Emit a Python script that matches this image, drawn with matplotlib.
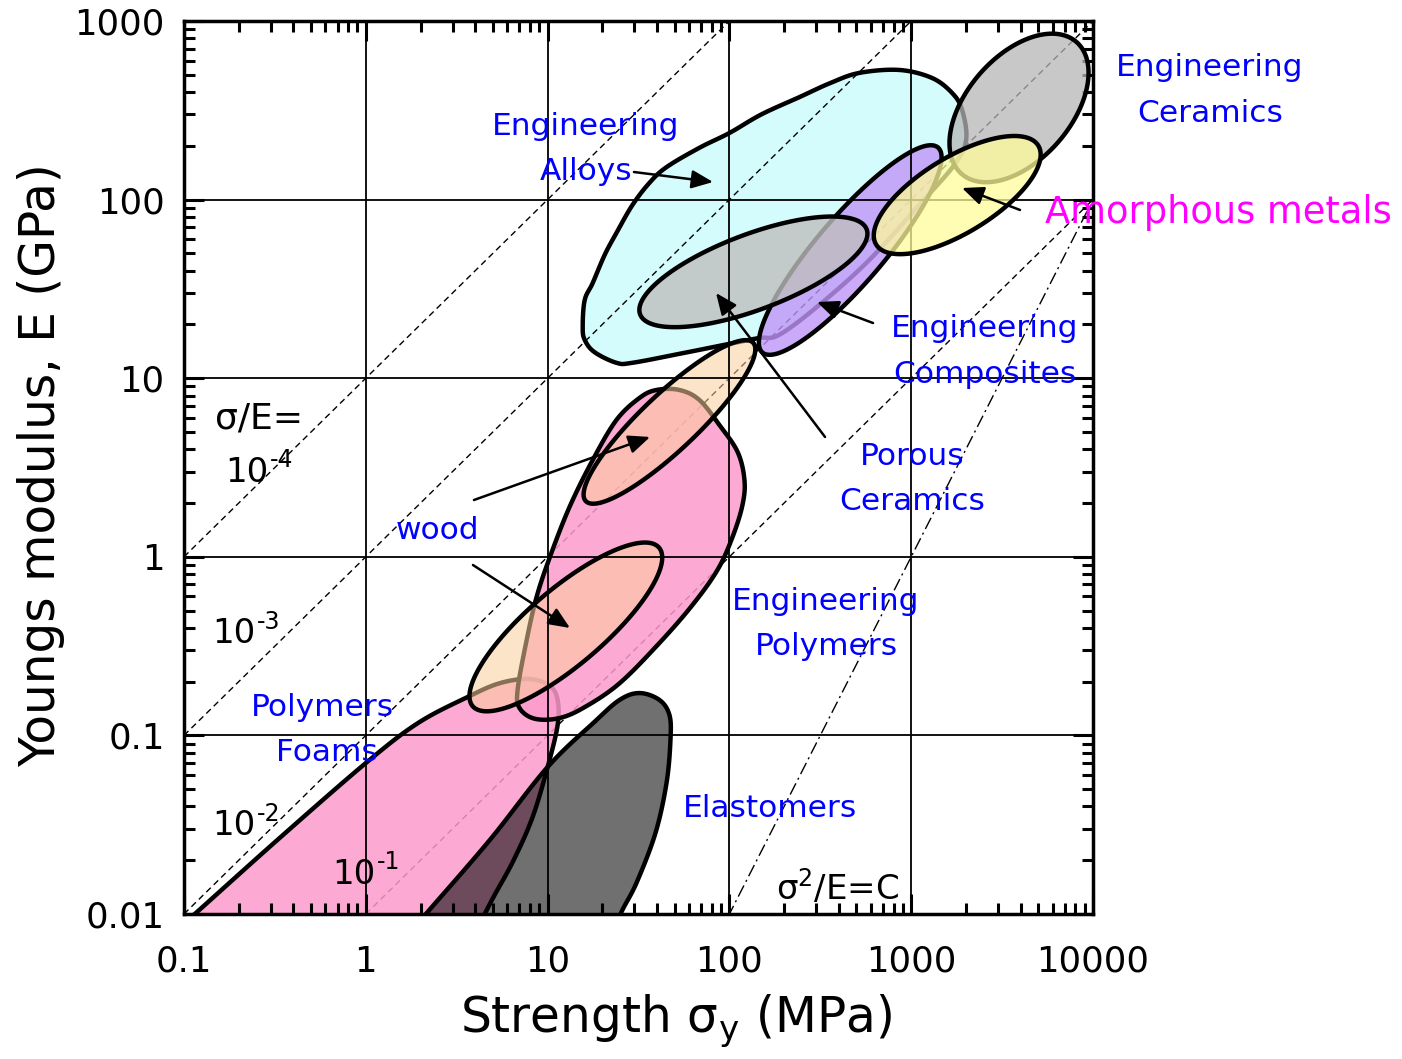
import numpy as np
import matplotlib
matplotlib.use('Agg')
import matplotlib.pyplot as plt
from matplotlib.ticker import LogLocator, FuncFormatter, NullFormatter
from matplotlib.transforms import offset_copy

plt.rcParams['font.family'] = ['DejaVu Sans']
plt.rcParams['mathtext.default'] = 'regular'

# ---------------- data ----------------
x_ticks = [0.1, 1, 10, 100, 1000, 10000]
y_ticks = [0.01, 0.1, 1, 10, 100, 1000]

ratio_lines = [1e-4, 1e-3, 1e-2, 1e-1]      # sigma/E guide lines
ratio_exponents = ['-4', '-3', '-2', '-1']
sq_const = 1e6                               # sigma^2/E = C guide line

# material property envelopes (sigma in MPa, E in GPa)
alloys_sigma = [15.6, 16.0, 17.7, 20.6, 23.9, 29.3, 36.3, 45.1, 68.4, 100, 150, 243, 360, 518, 859, 1300,
                1680, 1905, 2005, 1722, 1107, 588, 312, 188, 146, 104, 55.2, 29.3, 23.9, 18.1, 16.0]
alloys_E = [19.4, 27.4, 34.1, 49.0, 65.0, 93.3, 124, 152, 195, 236, 300, 375, 450, 512, 532, 480,
            395, 318, 216, 156, 93.3, 45.9, 25.7, 17.5, 16.8, 15.7, 13.8, 12.2, 12.2, 14.0, 16.4]

polymers_sigma = [39.7, 53.1, 68.4, 88.1, 111, 121, 118, 104, 85.9, 62.6, 41.2, 24.9, 16.0, 11.6,
                  8.49, 7.02, 6.84, 7.67, 8.70, 10.3, 13.2, 17.7, 23.9, 32.0]
polymers_E = [8.59, 8.59, 7.55, 5.47, 3.86, 2.69, 1.95, 1.29, 0.843, 0.537, 0.329, 0.196, 0.144, 0.125,
              0.124, 0.142, 0.180, 0.342, 0.596, 0.998, 1.90, 3.48, 5.83, 7.75]

foams_sigma = [0.042, 0.1164, 0.3365, 1.0, 1.93, 3.63, 5.45, 7.96, 10.3, 11.35, 11.35, 10.0, 8.27,
               6.50, 5.11, 4.51, 2.85]
foams_E = [0.004, 0.01014, 0.0267, 0.070, 0.117, 0.164, 0.196, 0.207, 0.189, 0.158, 0.114, 0.0665,
           0.0349, 0.0200, 0.01277, 0.0100, 0.004]

elastomers_sigma = [1.62, 2.14, 4.80, 10.0, 18.1, 24.9, 32.0, 41.2, 46.8, 47.4, 45.1, 39.2, 30.8, 25.2, 22.8]
elastomers_E = [0.00715, 0.0100, 0.0259, 0.0665, 0.119, 0.158, 0.1726, 0.158, 0.130, 0.0942, 0.0542,
                0.0284, 0.0149, 0.0100, 0.00715]

# elliptical envelopes: centre sigma, centre E, semi-axes (decades), tilt (deg)
ceramics_ell = (3918, 326, 0.486, 0.288, 50)
amorphous_ell = (1791, 106, 0.525, 0.211, 32)
composites_ell = (462, 52.2, 0.75, 0.185, 50)
porous_ell = (135.5, 39.4, 0.667, 0.211, 21)
wood_ell_1 = (46.8, 5.69, 0.639, 0.156, 44)
wood_ell_2 = (12.6, 0.405, 0.678, 0.211, 41)


# ---------------- helpers ----------------
def smooth_closed(sig, E, n=20):
    P = np.column_stack([np.log10(sig), np.log10(E)])
    N = len(P)
    t = np.linspace(0, 1, n, endpoint=False)[:, None]
    pts = []
    for i in range(N):
        p0, p1, p2, p3 = P[i - 1], P[i], P[(i + 1) % N], P[(i + 2) % N]
        seg = 0.5 * ((2 * p1) + (-p0 + p2) * t + (2 * p0 - 5 * p1 + 4 * p2 - p3) * t ** 2
                     + (-p0 + 3 * p1 - 3 * p2 + p3) * t ** 3)
        pts.append(seg)
    pts = np.vstack(pts)
    return 10 ** pts[:, 0], 10 ** pts[:, 1]


def ellipse_pts(spec, n=240):
    s0, e0, a, b, ang = spec
    t = np.linspace(0, 2 * np.pi, n)
    th = np.deg2rad(ang)
    u, v = a * np.cos(t), b * np.sin(t)
    lx = np.log10(s0) + u * np.cos(th) - v * np.sin(th)
    ly = np.log10(e0) + u * np.sin(th) + v * np.cos(th)
    return 10 ** lx, 10 ** ly


def rgba(r, g, b, a=1.0):
    return (r / 255, g / 255, b / 255, a)


fig = plt.figure(figsize=(14.02, 10.59), dpi=100)
ax = fig.add_axes([184 / 1402, (1059 - 914) / 1059, 909 / 1402, 893 / 1059])
ax.set_xscale('log')
ax.set_yscale('log')
ax.set_xlim(x_ticks[0], x_ticks[-1])
ax.set_ylim(y_ticks[0], y_ticks[-1])

EDGE = 'black'
LW = 3.2

# alloys (bottom layer)
xs, ys = smooth_closed(alloys_sigma, alloys_E)
ax.fill(xs, ys, facecolor=rgba(212, 252, 252), edgecolor=EDGE, lw=LW, zorder=1.0)

# guide lines
sg = np.logspace(-1, 4, 200)
for r in ratio_lines:
    ax.plot(sg, sg / (r * 1000), color='black', lw=1.0, ls=(0, (4.5, 3.0)), zorder=1.2)
ax.plot(sg, sg ** 2 / sq_const, color='black', lw=1.0, ls=(0, (9, 3, 1.5, 3)), zorder=1.2)

# foams, polymers
xs, ys = smooth_closed(foams_sigma, foams_E)
ax.fill(xs, ys, facecolor=rgba(252, 155, 205, 0.85), edgecolor=EDGE, lw=LW, zorder=1.3)
xs, ys = smooth_closed(polymers_sigma, polymers_E)
ax.fill(xs, ys, facecolor=rgba(252, 155, 205, 0.85), edgecolor=EDGE, lw=LW, zorder=1.4)

# wood
for spec in (wood_ell_1, wood_ell_2):
    xs, ys = ellipse_pts(spec)
    ax.fill(xs, ys, facecolor=rgba(251, 206, 155, 0.55), edgecolor=EDGE, lw=LW, zorder=1.5)

# elastomers
xs, ys = smooth_closed(elastomers_sigma, elastomers_E)
ax.fill(xs, ys, facecolor=(0, 0, 0, 0.56), edgecolor=EDGE, lw=LW, zorder=1.6)

# composites, porous ceramics
xs, ys = ellipse_pts(composites_ell)
ax.fill(xs, ys, facecolor=rgba(192, 149, 249, 0.8), edgecolor=EDGE, lw=LW, zorder=1.8)
xs, ys = ellipse_pts(porous_ell)
ax.fill(xs, ys, facecolor=rgba(190, 190, 190, 0.8), edgecolor=EDGE, lw=LW, zorder=1.9)

# ceramics, amorphous metals
xs, ys = ellipse_pts(ceramics_ell)
ax.fill(xs, ys, facecolor=rgba(182, 182, 182, 0.75), edgecolor=EDGE, lw=LW, zorder=2.9)
xs, ys = ellipse_pts(amorphous_ell)
ax.fill(xs, ys, facecolor=rgba(255, 251, 155, 0.75), edgecolor=EDGE, lw=LW, zorder=3.0)

# grid, ticks
ax.set_xticks(x_ticks)
ax.set_yticks(y_ticks)
ax.xaxis.set_minor_locator(LogLocator(base=10, subs=np.arange(2, 10), numticks=20))
ax.yaxis.set_minor_locator(LogLocator(base=10, subs=np.arange(2, 10), numticks=20))
ax.xaxis.set_minor_formatter(NullFormatter())
ax.yaxis.set_minor_formatter(NullFormatter())
fmt = FuncFormatter(lambda v, p: f'{v:g}')
ax.xaxis.set_major_formatter(fmt)
ax.yaxis.set_major_formatter(fmt)
ax.grid(True, which='major', color='black', lw=1.3, zorder=2)
ax.set_axisbelow(False)
for gl in ax.get_xgridlines() + ax.get_ygridlines():
    gl.set_zorder(2)
ax.tick_params(which='both', direction='in', top=True, right=True, width=2.2, color='black')
ax.tick_params(which='major', length=14.5, labelsize=25.5, pad=14)
ax.tick_params(axis='x', which='major', pad=22)
ax.tick_params(which='minor', length=8)
for sp in ax.spines.values():
    sp.set_linewidth(2.5)
    sp.set_zorder(5)

ax.set_xlabel('Strength σ$_y$ (MPa)', fontsize=35)
ax.set_ylabel('Youngs modulus, E (GPa)', fontsize=35)
ax.xaxis.set_label_coords(0.541, -0.088)
ax.yaxis.set_label_coords(-0.131, 0.503)

# material labels
blue = '#0000ff'
lab_kw = dict(transform=ax.transAxes, color=blue, fontsize=22.5, ha='center', va='center',
              multialignment='center', linespacing=1.72, zorder=10)
ax.text(0.4422, 0.8567, 'Engineering\nAlloys', **lab_kw)
ax.text(1.1287, 0.9222, 'Engineering\nCeramics', **lab_kw)
ax.text(0.8812, 0.6299, 'Engineering\nComposites', **lab_kw)
ax.text(0.8009, 0.4871, 'Porous\nCeramics', **lab_kw)
ax.text(0.2794, 0.4300, 'wood', **lab_kw)
ax.text(0.7063, 0.3247, 'Engineering\nPolymers', **lab_kw)
ax.text(0.152, 0.206, 'Polymers\n Foams', **lab_kw)
ax.text(0.6447, 0.1187, 'Elastomers', **lab_kw)
ax.text(1.1375, 0.7861, 'Amorphous metals', transform=ax.transAxes, color='#ff00ff', fontsize=26.5,
        ha='center', va='center', zorder=10)

# guide line labels
BASE_FS = 24.5
SUP_FS = 17


def power_label(x, y, expo):
    ax.text(x, y, '10', transform=ax.transAxes, color='black', fontsize=BASE_FS,
            ha='left', va='baseline', zorder=10)
    tr = offset_copy(ax.transAxes, fig=fig, x=2 * 0.636 * BASE_FS + 1, y=0.42 * BASE_FS, units='points')
    ax.text(x, y, expo, transform=tr, color='black', fontsize=SUP_FS, ha='left', va='baseline', zorder=10)


ax.text(0.0341, 0.5554, 'σ/E=', transform=ax.transAxes, color='black', fontsize=26,
        ha='left', va='center', zorder=10)
power_label(0.0451, 0.484, ratio_exponents[0])
power_label(0.0308, 0.303, ratio_exponents[1])
power_label(0.0308, 0.088, ratio_exponents[2])
power_label(0.1628, 0.034, ratio_exponents[3])
ax.text(0.651, 0.0302, 'σ$^2$/E=C', transform=ax.transAxes, color='black', fontsize=24.5,
        ha='left', va='center', zorder=10)

# arrows
arrows = [((0.4950, 0.8309), (0.5820, 0.8197)),
          ((0.9197, 0.7884), (0.8559, 0.8130)),
          ((0.7580, 0.6618), (0.6964, 0.6853)),
          ((0.7052, 0.5342), (0.5853, 0.6954)),
          ((0.3190, 0.4636), (0.5127, 0.5342)),
          ((0.3179, 0.3908), (0.4246, 0.3203))]
for (sx, sy), (tx, ty) in arrows:
    ax.annotate('', xy=(tx, ty), xytext=(sx, sy), xycoords='axes fraction', textcoords='axes fraction',
                arrowprops=dict(arrowstyle='-|>,head_length=0.65,head_width=0.28', color='black', lw=1.8,
                                mutation_scale=20, shrinkA=0, shrinkB=0), zorder=9)

fig.savefig('out.png', dpi=100)
